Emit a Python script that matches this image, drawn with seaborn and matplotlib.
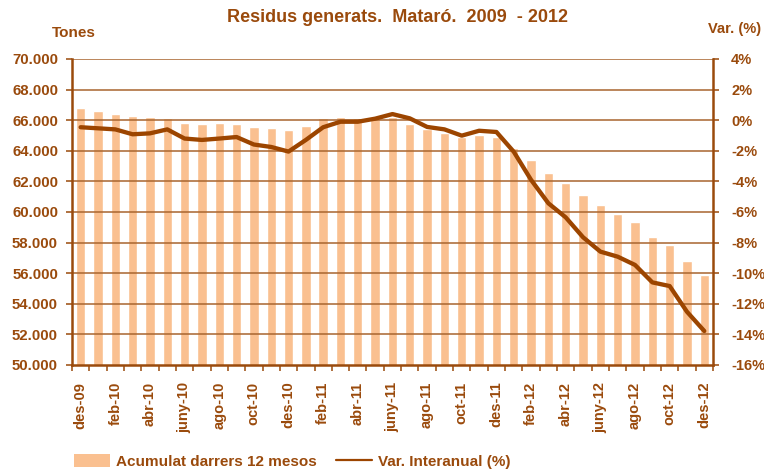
import numpy as np
import pandas as pd
import matplotlib
matplotlib.use("Agg")
import matplotlib.pyplot as plt
from matplotlib.ticker import FuncFormatter, FixedLocator
from matplotlib.patches import Patch
from matplotlib.lines import Line2D
import seaborn as sns

sns.set_theme(style="white")
plt.rcParams['font.family'] = ['Liberation Sans', 'DejaVu Sans']

# dades llegides del gràfic
mesos = ['des-09', 'gen-10', 'feb-10', 'mar-10', 'abr-10', 'maig-10', 'juny-10', 'jul-10',
         'ago-10', 'set-10', 'oct-10', 'nov-10', 'des-10', 'gen-11', 'feb-11', 'mar-11',
         'abr-11', 'maig-11', 'juny-11', 'jul-11', 'ago-11', 'set-11', 'oct-11', 'nov-11',
         'des-11', 'gen-12', 'feb-12', 'mar-12', 'abr-12', 'maig-12', 'juny-12', 'jul-12',
         'ago-12', 'set-12', 'oct-12', 'nov-12', 'des-12']
acumulat = [66800, 66600, 66400, 66280, 66200, 66150, 65800, 65750, 65800, 65750,
            65550, 65500, 65350, 65600, 66150, 66200, 66150, 66050, 66200, 65750,
            65400, 65150, 64870, 65000, 64870, 64180, 63420, 62550, 61920, 61110,
            60460, 59870, 59350, 58370, 57840, 56800, 55880]
var_interanual = [-0.46, -0.53, -0.60, -0.92, -0.86, -0.60, -1.20, -1.29, -1.20, -1.10,
                  -1.59, -1.75, -2.05, -1.29, -0.46, -0.10, -0.10, 0.10, 0.40, 0.12,
                  -0.44, -0.60, -1.01, -0.69, -0.77, -2.06, -3.90, -5.43, -6.35, -7.65,
                  -8.59, -8.92, -9.46, -10.60, -10.84, -12.52, -13.78]

MARRO = '#9A4A0C'
BARRA = '#FAC090'
LINIA = '#9C4500'
GRID = '#A8652F'

df = pd.DataFrame({'mes': mesos, 'acumulat': acumulat, 'var': var_interanual,
                   'pos': np.arange(len(mesos))})

fig = plt.figure(figsize=(7.64, 4.72), dpi=100)
ax = fig.add_axes([0.0942, 0.2267, 0.839, 0.6483])

sns.barplot(data=df, x='mes', y='acumulat', color=BARRA, width=0.54,
            saturation=1, ax=ax, zorder=1)
ax.set_ylim(50000, 70000)
ax.set_yticks(np.arange(50000, 70001, 2000))
ax.yaxis.set_major_formatter(FuncFormatter(lambda v, p: f"{int(v):,}".replace(',', '.')))
ax.set_xlabel('')
ax.set_ylabel('')

# graella per sobre de les barres
for v in np.arange(52000, 70001, 2000):
    ax.axhline(v, color=GRID, lw=1.1, zorder=2)

ax2 = ax.twinx()
sns.lineplot(data=df, x='pos', y='var', color=LINIA, lw=3.1, ax=ax2, zorder=5)
ax2.set_ylim(-16, 4)
ax2.set_yticks(np.arange(-16, 5, 2))
ax2.yaxis.set_major_formatter(FuncFormatter(lambda v, p: f"{int(v)}%"))
ax2.set_ylabel('')
ax2.set_xlabel('')

# eix x: marques entre categories, etiquetes cada dos mesos
ax.set_xlim(-0.5, len(mesos) - 0.5)
ax.xaxis.set_major_locator(FixedLocator(np.arange(0, len(mesos), 2)))
ax.xaxis.set_major_formatter(FuncFormatter(lambda v, p: mesos[int(round(v))]))
ax.xaxis.set_minor_locator(FixedLocator(np.arange(-0.5, len(mesos), 1)))
ax.tick_params(axis='x', which='major', length=0, pad=12, labelsize=10.5,
               labelcolor=MARRO, labelrotation=90, bottom=True, labelbottom=True)
ax.tick_params(axis='x', which='minor', length=4, width=1.1, color=MARRO,
               direction='out', bottom=True)
ax.tick_params(axis='y', length=4, width=1.1, color=MARRO, direction='out',
               labelsize=10.8, labelcolor=MARRO, pad=6, left=True)
ax2.tick_params(axis='y', length=4, width=1.1, color=MARRO, direction='out',
                labelsize=10.5, labelcolor=MARRO, pad=9, right=True)
for lbl in ax.get_yticklabels() + ax2.get_yticklabels() + ax.get_xticklabels():
    lbl.set_fontweight('bold')

for a in (ax, ax2):
    for s in a.spines.values():
        s.set_visible(False)
ax.spines['left'].set_visible(True)
ax.spines['bottom'].set_visible(True)
ax2.spines['right'].set_visible(True)
for s in (ax.spines['left'], ax.spines['bottom'], ax2.spines['right']):
    s.set_color(MARRO)
    s.set_linewidth(1.8)

fig.text(0.52, 0.962, 'Residus generats.  Mataró.  2009  - 2012', ha='center', va='center',
         fontsize=13, fontweight='bold', color=MARRO)
fig.text(0.096, 0.930, 'Tones', ha='center', va='center', fontsize=11,
         fontweight='bold', color=MARRO)
fig.text(0.961, 0.938, 'Var. (%)', ha='center', va='center', fontsize=10.5,
         fontweight='bold', color=MARRO)

handles = [Patch(facecolor=BARRA, edgecolor='none'),
           Line2D([0], [0], color=LINIA, lw=1.6)]
fig.legend(handles, ['Acumulat darrers 12 mesos', 'Var. Interanual (%)'],
           loc='center left', bbox_to_anchor=(0.0865, 0.022), ncol=2, frameon=False,
           prop={'weight': 'bold', 'size': 11}, labelcolor=MARRO, borderpad=0,
           handlelength=2.4, handleheight=0.9, columnspacing=1.25, handletextpad=0.35)

fig.savefig('out.png', dpi=100)
